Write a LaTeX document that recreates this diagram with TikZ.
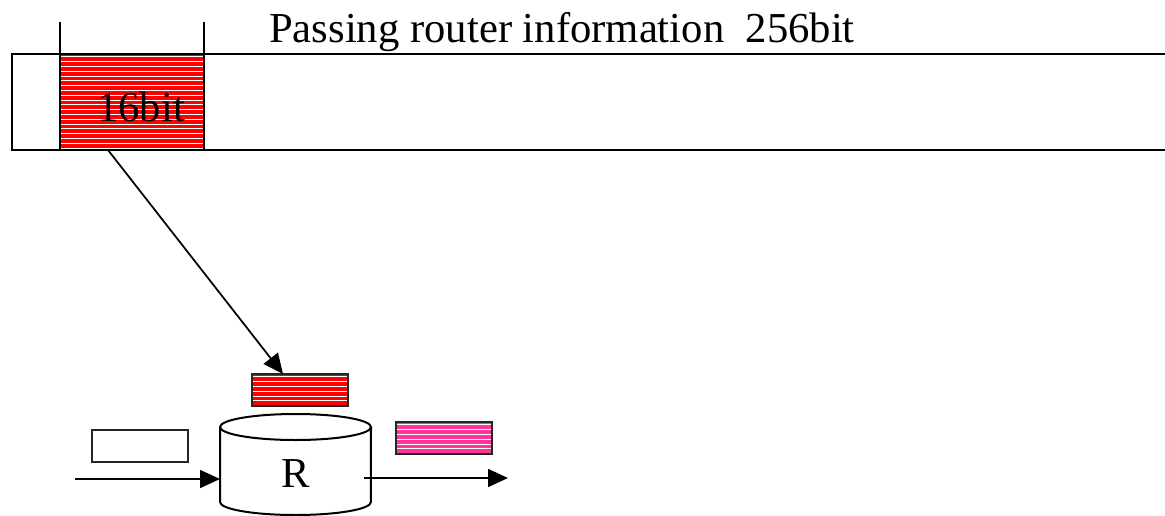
\documentclass[tikz,border=0pt]{standalone}
\usepackage{fontspec}
\setmainfont{Liberation Serif}
\usetikzlibrary{arrows.meta}
\definecolor{barred}{RGB}{255,0,0}
\definecolor{pinkout}{RGB}{255,51,153}
\begin{document}
\begin{tikzpicture}[x=0.75pt,y=-0.75pt,
  thick line/.style={line width=1.5pt, black},
  arrowline/.style={line width=1.3pt, -{Triangle[length=15pt,width=13.5pt]}},
  striped/.style={path picture={
      \foreach \i in {0,...,30}{
        \draw[white,line width=0.8pt]
          ([yshift=-\i*3.6pt-2.2pt]path picture bounding box.north west) -- ++(300pt,0);}}},
  packet/.style={draw=black!85, line width=1.2pt, minimum width=72pt, minimum height=24pt,
      inner sep=0pt, outer sep=0pt},
  bigfont/.style={font=\fontsize{32}{38}\selectfont},
]
\useasboundingbox (0,0) rectangle (1165,515);

% long bar (open to the right)
\node[thick line, draw, anchor=north west, minimum width=870pt, minimum height=72pt,
      inner sep=0pt, outer sep=0pt] (bar) at (12,54) {};

% 16bit field
\node[draw, thick line, fill=barred, striped, anchor=north west, minimum width=108pt,
      minimum height=72pt, inner sep=0pt, outer sep=0pt] (field) at (60,54) {};
\node[bigfont, anchor=base] (fieldlabel) at (141,121) {16bit};

% ticks above the field
\coordinate (tickA) at (60,22);
\coordinate (tickB) at (204,22);
\draw[thick line] (tickA) -- (field.north west);
\draw[thick line] (tickB) -- (field.north east);

% title
\node[bigfont, anchor=base west, inner sep=0pt] (title) at (269,42) {Passing router information\ \ 256bit};

% router packets
\node[packet, fill=barred, striped, anchor=north west] (inpkt) at (252,374) {};
\node[packet, fill=pinkout, striped, anchor=north west] (outpkt) at (396,422) {};
\node[packet, fill=white, anchor=north west] (emptypkt) at (92,430) {};

% router cylinder
\draw[thick line, fill=white] (220,427) -- (220,502) arc[start angle=180, end angle=360, x radius=56.6pt, y radius=9.75pt] -- (371,427);
\draw[thick line, fill=white] (295.5,427) ellipse[x radius=56.6pt, y radius=9.75pt];
\node[bigfont] (router) at (295.5,474) {R};
\coordinate (routerin) at (220,479);
\coordinate (routerout) at (364,478);
\coordinate (srcin) at (75,479);
\coordinate (dstout) at (508,478);

% connectors
\draw[arrowline] ([xshift=36pt]field.south west) -- ([xshift=23.25pt]inpkt.north west);
\draw[arrowline] (srcin) -- (routerin);
\draw[arrowline] (routerout) -- (dstout);
\end{tikzpicture}
\end{document}
